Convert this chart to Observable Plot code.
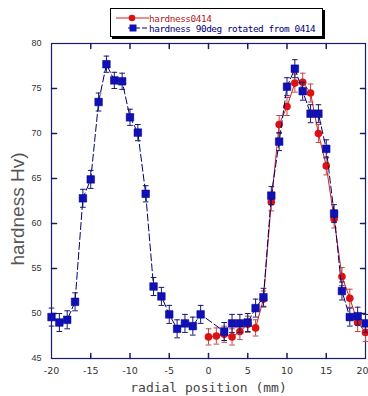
<!DOCTYPE html>
<html><head><meta charset="utf-8">
<script src="https://cdn.jsdelivr.net/npm/d3@7"></script>
<script src="https://cdn.jsdelivr.net/npm/@observablehq/plot@0.6"></script>
<style>
body{margin:0;background:#fff;}
#wrap{position:relative;width:368px;height:396px;overflow:hidden;}
#legend{position:absolute;left:110px;top:8px;width:211px;height:27px;border:1px solid #000;box-shadow:2px 2px 0 #000;background:#fff;font-family:"DejaVu Sans Mono",monospace;font-size:9.4px;letter-spacing:-0.45px;}
#legend .row{position:absolute;left:0;height:10px;display:flex;align-items:center;}
#legend svg{display:block;}
</style></head><body>
<div id="wrap">
<div id="legend">
  <div class="row" style="top:4px"><svg width="38" height="10"><line x1="5" y1="5" x2="38" y2="5" stroke="#d02020" stroke-width="1"/><circle cx="21" cy="5" r="3.3" fill="#dd1111"/></svg><span style="color:#b02020">hardness0414</span></div>
  <div class="row" style="top:14px"><svg width="38" height="10"><line x1="17" y1="5" x2="38" y2="5" stroke="#000070" stroke-width="1" stroke-dasharray="5,2"/><rect x="18.5" y="1.5" width="7" height="7" fill="#1010b8"/></svg><span style="color:#000080">hardness 90deg rotated from 0414</span></div>
</div>
</div>
<script>
const redX   = [0, 1, 2, 3, 4, 5, 6, 7, 8, 9, 10, 11, 12, 13, 14, 15, 16, 17, 18, 19, 20];
const redY   = [47.4, 47.5, 47.7, 47.4, 48.0, 48.8, 48.4, 51.6, 62.4, 71.0, 73.0, 75.6, 75.7, 74.5, 70.0, 66.4, 60.5, 54.1, 51.7, 49.0, 47.9];
const redErr = [0.9, 0.9, 0.9, 0.9, 0.9, 0.9, 0.9, 0.9, 1.0, 1.0, 1.0, 1.0, 1.0, 1.0, 1.0, 1.0, 1.0, 1.0, 1.0, 1.0, 1.0];

const blueX   = [-20, -19, -18, -17, -16, -15, -14, -13, -12, -11, -10, -9, -8, -7, -6, -5, -4, -3, -2, -1, 2, 3, 4, 5, 6, 7, 8, 9, 10, 11, 12, 13, 14, 15, 16, 17, 18, 19, 20];
const blueY   = [49.6, 49.0, 49.3, 51.3, 62.8, 64.9, 73.5, 77.7, 75.9, 75.8, 71.8, 70.1, 63.3, 53.0, 51.9, 49.9, 48.3, 48.9, 48.6, 49.9, 48.0, 48.9, 48.9, 49.0, 50.6, 51.8, 63.1, 69.1, 75.2, 77.2, 74.7, 72.2, 72.2, 68.3, 61.1, 52.5, 49.6, 49.7, 48.9];
const blueErr = [1.0, 1.0, 1.0, 1.0, 1.0, 1.0, 1.0, 0.9, 0.9, 0.9, 0.9, 0.9, 0.9, 1.0, 1.0, 1.0, 1.0, 1.0, 1.0, 1.0, 1.0, 1.0, 1.0, 1.0, 1.0, 1.0, 1.0, 1.0, 1.0, 1.0, 1.0, 1.0, 1.0, 1.0, 1.0, 1.0, 1.0, 1.0, 1.0];

const xTickLabels = [-20, -15, -10, -5, 0, 5, 10, 15];
const xLastLabel = [20];
const yTickLabels = [45, 50, 55, 60, 65, 70, 75, 80];
const xInnerTicks = [-15, -10, -5, 0, 5, 10, 15];
const yInnerTicks = [50, 55, 60, 65, 70, 75];

const red = redX.map((x, i) => ({x, y: redY[i], e: redErr[i]}));
const blue = blueX.map((x, i) => ({x, y: blueY[i], e: blueErr[i]}));

const navy = "#1a1a70";
const tickShape = {draw(ctx, l) { ctx.moveTo(0, 0); ctx.lineTo(0, -l); }};
const capSymbol = {draw(ctx, size) { const w = Math.sqrt(size) / 2; ctx.moveTo(-w, 0); ctx.lineTo(w, 0); }};

function errorBars(data, color) {
  return [
    Plot.ruleX(data, {x: "x", y1: d => d.y - d.e, y2: d => d.y + d.e, stroke: color, strokeWidth: 1}),
    Plot.dot(data, {x: "x", y: d => d.y - d.e, symbol: capSymbol, r: 3.2, stroke: color, strokeWidth: 1}),
    Plot.dot(data, {x: "x", y: d => d.y + d.e, symbol: capSymbol, r: 3.2, stroke: color, strokeWidth: 1})
  ];
}

const xAxisStyle = {tickSize: 0, tickPadding: 9, tickFormat: d => String(d), label: null, fontSize: 9.5, fontFamily: "DejaVu Sans", fill: "#333"};

const chart = Plot.plot({
  width: 368,
  height: 396,
  marginTop: 43,
  marginBottom: 38,
  marginLeft: 51,
  marginRight: 3,
  style: {background: "#fff", color: "#333", overflow: "visible"},
  x: {domain: [-20, 20]},
  y: {domain: [45, 80]},
  marks: [
    Plot.axisX({ticks: xTickLabels, ...xAxisStyle}),
    Plot.axisX({ticks: xLastLabel, ...xAxisStyle, textAnchor: "end", dx: 3}),
    Plot.axisY({ticks: yTickLabels, tickSize: 0, tickPadding: 10, tickFormat: d => String(d), label: null, fontSize: 9, fontFamily: "Liberation Sans", fill: "#333"}),
    Plot.vector(xInnerTicks, {x: d => d, frameAnchor: "bottom", rotate: 0, length: 5, anchor: "start", shape: tickShape, stroke: navy}),
    Plot.vector(xInnerTicks, {x: d => d, frameAnchor: "top", rotate: 180, length: 5, anchor: "start", shape: tickShape, stroke: navy}),
    Plot.vector(yInnerTicks, {y: d => d, frameAnchor: "left", rotate: 90, length: 5, anchor: "start", shape: tickShape, stroke: navy}),
    Plot.vector(yInnerTicks, {y: d => d, frameAnchor: "right", rotate: -90, length: 5, anchor: "start", shape: tickShape, stroke: navy}),
    Plot.frame({stroke: navy, strokeWidth: 1.2}),
    Plot.text(["radial position (mm)"], {frameAnchor: "bottom", dy: 29, lineAnchor: "middle", fontSize: 13, fontFamily: "DejaVu Sans Mono", fill: "#444"}),
    Plot.text(["hardness Hv)"], {frameAnchor: "left", textAnchor: "middle", dx: -34, dy: 8, rotate: -90, fontSize: 19, fontFamily: "Liberation Sans", fill: "#555"}),
    Plot.line(red, {x: "x", y: "y", stroke: "#d02020", strokeWidth: 1}),
    ...errorBars(red, "#c04848"),
    Plot.dot(red, {x: "x", y: "y", r: 3.8, fill: "#dd1111"}),
    Plot.line(blue, {x: "x", y: "y", stroke: "#000070", strokeWidth: 1, strokeDasharray: "7,3"}),
    ...errorBars(blue, "#1a1a70"),
    Plot.dot(blue, {x: "x", y: "y", r: 4.3, symbol: "square", fill: "#1010b8", stroke: "#000080", strokeWidth: 0.5})
  ]
});
document.getElementById("wrap").prepend(chart);
</script>
</body></html>
